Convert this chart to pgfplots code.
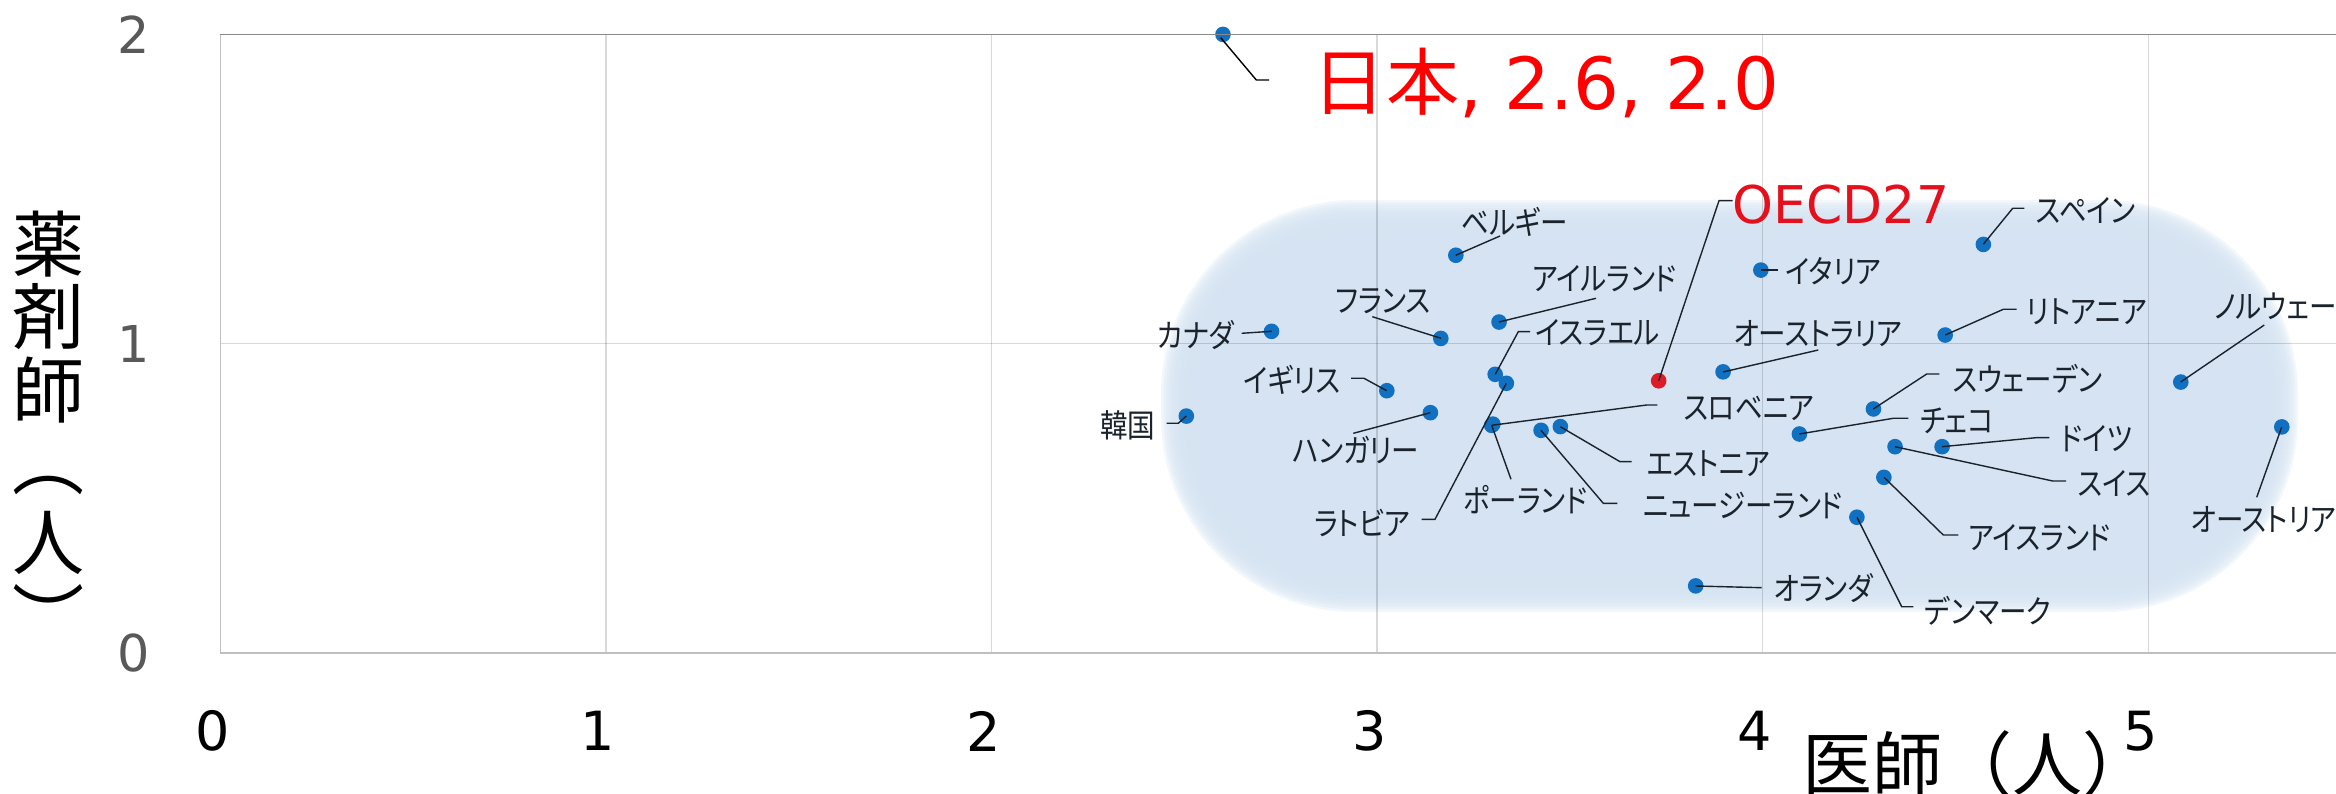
\documentclass[border=0pt]{standalone}
\usepackage{pgfplots}
\usepackage{pgfplotstable}
\pgfplotsset{compat=1.18}
\usepackage{fontspec}
\newfontfamily\jp[RawFeature=+palt, FakeStretch=0.86]{Noto Sans CJK JP}
\newfontfamily\jpf{Noto Sans CJK JP}
\newfontfamily\dv{DejaVu Sans}

\definecolor{ptblue}{RGB}{18,112,192}
\definecolor{ptred}{RGB}{222,28,40}
\definecolor{blobc}{RGB}{213,227,242}
\definecolor{lblc}{RGB}{26,34,44}
\definecolor{tickg}{RGB}{89,89,89}
\definecolor{axg}{RGB}{191,191,191}
\definecolor{topg}{RGB}{137,137,137}
\definecolor{jpred}{RGB}{255,0,0}
\definecolor{oecdred}{RGB}{228,16,28}

% doctors (x) and pharmacists (y) per 1000 population
\pgfplotstableread{
x     y
2.600 2.000
3.204 1.286
2.726 1.040
3.165 1.017
3.316 1.070
3.306 0.901
3.335 0.872
3.025 0.848
3.138 0.777
2.505 0.766
3.297 0.736
3.300 0.740
3.425 0.720
3.475 0.732
3.995 1.238
3.897 0.909
4.287 0.789
4.095 0.708
4.343 0.667
4.465 0.667
4.314 0.568
4.244 0.439
3.826 0.217
4.572 1.321
4.473 1.028
5.084 0.876
5.346 0.731
}\countries

\pgfplotstableread{
x     y
3.730 0.880
}\oecd

\tikzset{
  px/.style={shift={(-55.1pt,163.25pt)}, x=0.25pt, y=-0.25pt},
  lead/.style={draw=lblc, line width=0.35pt},
  lbl/.style={font=\jp\fontsize{8pt}{8pt}\selectfont, text=lblc, inner sep=0pt},
}

\begin{document}
\begin{tikzpicture}
\useasboundingbox (-55.1pt,-35pt) rectangle (528.9pt,163.25pt);
\clip (-55.1pt,-35pt) rectangle (528.9pt,163.25pt);

% soft highlighted region behind the cluster
\begin{scope}[px]
  \foreach \k in {0,...,11}{
    \pgfmathsetmacro\d{-14+28*\k/11}
    \pgfmathsetmacro\r{(180-\d)*0.25}
    \fill[blobc, fill opacity=0.3, rounded corners=\r pt]
      (1175+\d,214+\d) rectangle (2284-\d,598-\d);
  }
\end{scope}

\begin{axis}[
  at={(0,0)}, anchor=south west,
  scale only axis, width=578.4pt, height=154.65pt,
  xmin=0, xmax=6, ymin=0, ymax=2,
  xtick={0,1,2,3,4,5}, ytick={0,1,2},
  axis line style={draw=none},
  major tick length=0pt,
  grid=major,
  major grid style={black, opacity=0.15, line width=0.35pt},
  /pgf/number format/assume math mode=true,
  xticklabel style={font=\dv\fontsize{13.5pt}{14pt}\selectfont, text=black,
    anchor=center, yshift=-19.5pt, xshift=-2pt},
  yticklabel style={font=\dv\fontsize{12.7pt}{13pt}\selectfont, text=tickg,
    anchor=center, xshift=-21.7pt},
  clip=false,
]
\addplot[only marks, mark=*, mark size=1.75pt, color=ptblue] table[x=x,y=y] {\countries};
\addplot[only marks, mark=*, mark size=1.75pt, color=ptred] table[x=x,y=y] {\oecd};
\end{axis}

\begin{scope}[px]
  % axis frame
  \draw[axg, line width=0.4pt] (220.4,653) -- (220.4,34.4);
  \draw[axg, line width=0.5pt] (220.4,653) -- (2336,653);
  \draw[topg, line width=0.4pt] (220.4,34.4) -- (2336,34.4);

  % leader lines
  \draw[draw=black, line width=0.35pt] (1220.7,37.7)--(1256.3,80)--(1269,80);
  \draw[lead] (1455.7,255.3)--(1500,236);
  \draw[lead] (1441,338.3)--(1372.3,316.7);
  \draw[lead] (1271.7,331.3)--(1241.7,333.3);
  \draw[lead] (1386.7,390.7)--(1364,378.3)--(1351,378.3);
  \draw[lead] (1186.3,416)--(1178.3,423.3)--(1166.7,423.3);
  \draw[lead] (1430.3,412.7)--(1353.3,433.3);
  \draw[lead] (1506.3,383.3)--(1435,519.3)--(1421.7,519.3);
  \draw[lead] (1491.7,425.3)--(1511,479.3);
  \draw[lead] (1495.3,374.3)--(1518.3,331.7)--(1530,331.7);
  \draw[lead] (1499,322)--(1596,298.3);
  \draw[lead] (1491.7,425.3)--(1646.7,405)--(1657.3,405);
  \draw[lead] (1560.3,426.7)--(1620,461.7)--(1631.7,461.7);
  \draw[lead] (1541,430.3)--(1603.3,503.3)--(1617.3,503.3);
  \draw[lead] (1658.7,380.7)--(1719,200.7)--(1732.7,200.7);
  \draw[lead] (1761,270)--(1778.3,270);
  \draw[lead] (1723,372)--(1818.3,350);
  \draw[lead] (1873.3,409)--(1926.7,374)--(1939.3,374);
  \draw[lead] (1799.3,434)--(1893.3,418.3)--(1908.3,418.3);
  \draw[lead] (1895,446.7)--(2052.7,481)--(2066,481);
  \draw[lead] (1942,446.7)--(2036,437.7)--(2049.3,437.7);
  \draw[lead] (1884,477.3)--(1943.3,535)--(1958.3,535);
  \draw[lead] (1857,517.3)--(1901.7,606.7)--(1913.3,606.7);
  \draw[lead] (1695.7,586)--(1761.7,587.7);
  \draw[lead] (1983.3,244.3)--(2012.7,208.3)--(2024.3,208.3);
  \draw[lead] (1945.3,335)--(2003.3,309.3)--(2016.7,309.3);
  \draw[lead] (2180.7,382)--(2264.3,325);
  \draw[lead] (2281.7,427)--(2256.7,497.3);

  % data labels
  \node[anchor=west, inner sep=0pt, text=jpred] at (1312,83)
    {{\jpf\fontsize{18.3pt}{18pt}\selectfont 日本}{\dv\fontsize{18pt}{18pt}\selectfont , 2.6, 2.0}};
  \node[anchor=west, inner sep=0pt, text=oecdred, font=\dv\fontsize{13pt}{13pt}\selectfont] at (1732,205) {OECD27};
  \node[lbl, anchor=west] at (1460.7,222) {ベルギー};
  \node[lbl, anchor=west] at (1334.3,301.5) {フランス};
  \node[lbl, anchor=east] at (1235,335) {カナダ};
  \node[lbl, anchor=east] at (1341.7,380.3) {イギリス};
  \node[lbl, anchor=east] at (1156,425) {韓国};
  \node[lbl, anchor=west] at (1291.7,450) {ハンガリー};
  \node[lbl, anchor=east] at (1410.7,522.5) {ラトビア};
  \node[lbl, anchor=west] at (1462.7,500) {ポーランド};
  \node[lbl, anchor=west] at (1535,332.5) {イスラエル};
  \node[lbl, anchor=west] at (1531.7,278.3) {アイルランド};
  \node[lbl, anchor=west] at (1682.7,408.3) {スロベニア};
  \node[lbl, anchor=west] at (1646,464) {エストニア};
  \node[lbl, anchor=west] at (1642.7,505.8) {ニュージーランド};
  \node[lbl, anchor=west] at (1785,270.8) {イタリア};
  \node[lbl, anchor=west] at (1732.7,333.3) {オーストラリア};
  \node[lbl, anchor=west] at (1952,378.3) {スウェーデン};
  \node[lbl, anchor=west] at (1919.3,421) {チェコ};
  \node[lbl, anchor=west] at (2076.7,483.3) {スイス};
  \node[lbl, anchor=west] at (2060,439) {ドイツ};
  \node[lbl, anchor=west] at (1967.7,537.5) {アイスランド};
  \node[lbl, anchor=west] at (1924,611) {デンマーク};
  \node[lbl, anchor=west] at (1773.3,588.3) {オランダ};
  \node[lbl, anchor=west] at (2035.3,210) {スペイン};
  \node[lbl, anchor=west] at (2026,311.7) {リトアニア};
  \node[lbl, anchor=west] at (2213.7,306.7) {ノルウェー};
  \node[lbl, anchor=west] at (2190.3,520) {オーストリア};

  % axis titles
  \node[anchor=west, inner sep=0pt, font=\jpf\fontsize{17.5pt}{18pt}\selectfont] at (1801.5,763.5) {医師（人）};
  \foreach \c/\yy in {薬/244, 剤/317, 師/390, ︵/486, 人/543, ︶/614}{
    \node[inner sep=0pt, font=\jpf\fontsize{18pt}{18pt}\selectfont] at (48.3,\yy) {\c};
  }
\end{scope}
\end{tikzpicture}
\end{document}
